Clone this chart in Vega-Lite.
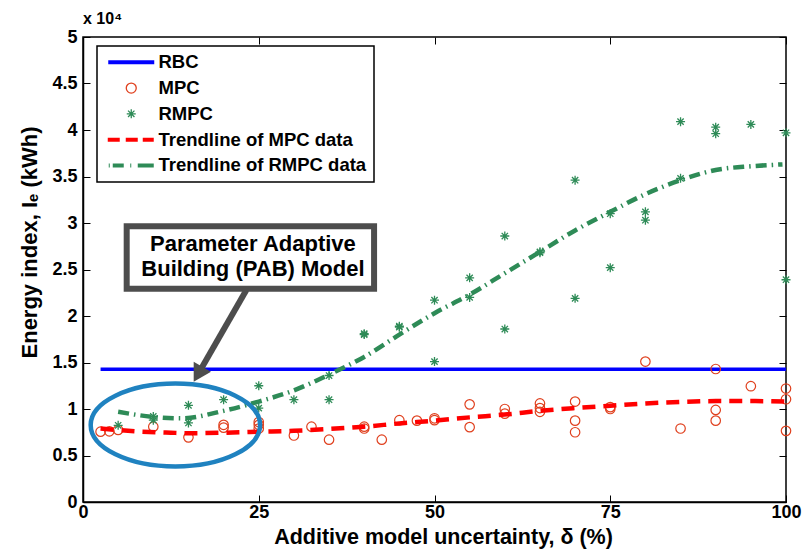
{
  "$schema": "https://vega.github.io/schema/vega-lite/v6.json",
  "width": 703,
  "height": 465,
  "autosize": {"type": "none"},
  "padding": {"left": 83, "top": 37, "right": 16, "bottom": 52},
  "background": "white",
  "title": {"text": "x 10⁴", "anchor": "start", "frame": "group", "fontSize": 16, "fontWeight": "bold", "font": "Liberation Sans", "offset": 1, "color": "black"},
  "config": {
    "view": {"stroke": "black", "strokeWidth": 1.5},
    "axis": {"domainColor": "black", "domainWidth": 1.5, "tickColor": "black", "tickWidth": 1, "tickSize": -7, "grid": false, "labelFont": "Liberation Sans", "labelFontWeight": "bold", "labelFontSize": 18, "labelColor": "black", "labelFlush": false, "labelOverlap": false, "titleFont": "Liberation Sans", "titleFontWeight": "bold", "titleFontSize": 22, "titleColor": "black"},
    "legend": {"labelFont": "Liberation Sans", "labelFontWeight": "bold", "labelFontSize": 18.5, "labelColor": "black", "labelLimit": 400}
  },
  "resolve": {"axis": {"x": "independent", "y": "independent"}},
  "layer": [
    {
      "data": {"values": [{"delta": 2.5, "energy": 14270}, {"delta": 100, "energy": 14270}]},
      "mark": {"type": "line", "color": "#0000ff", "strokeWidth": 3.5},
      "encoding": {
        "x": {"field": "delta", "type": "quantitative", "scale": {"domain": [0, 100], "nice": false},
          "axis": {"orient": "bottom", "values": [0, 25, 50, 75, 100], "title": "Additive model uncertainty, δ (%)", "titleFontSize": 21.5, "labelPadding": 8, "titlePadding": 5, "titleX": 360, "titleAlign": "center"}},
        "y": {"field": "energy", "type": "quantitative", "scale": {"domain": [0, 50000], "nice": false},
          "axis": {"orient": "left", "values": [0, 5000, 10000, 15000, 20000, 25000, 30000, 35000, 40000, 45000, 50000], "labelExpr": "datum.value / 10000", "title": "Energy index, Iₑ (kWh)", "labelPadding": 13, "titlePadding": 10, "titleY": 205}}
      }
    },
    {
      "data": {"values": [
        {"delta": 2.5, "energy": 7560}, {"delta": 3.75, "energy": 7600}, {"delta": 5, "energy": 7750},
        {"delta": 10, "energy": 8100}, {"delta": 15, "energy": 6950}, {"delta": 20, "energy": 8300},
        {"delta": 20, "energy": 8000}, {"delta": 25, "energy": 8600}, {"delta": 25, "energy": 7900},
        {"delta": 25, "energy": 8300}, {"delta": 30, "energy": 7150}, {"delta": 32.5, "energy": 8100},
        {"delta": 35, "energy": 6700}, {"delta": 40, "energy": 8100}, {"delta": 40, "energy": 7900},
        {"delta": 42.5, "energy": 6700}, {"delta": 45, "energy": 8800}, {"delta": 47.5, "energy": 8750},
        {"delta": 50, "energy": 9000}, {"delta": 50, "energy": 8800}, {"delta": 55, "energy": 10500},
        {"delta": 55, "energy": 8050}, {"delta": 60, "energy": 10000}, {"delta": 60, "energy": 9500},
        {"delta": 65, "energy": 10600}, {"delta": 65, "energy": 10100}, {"delta": 65, "energy": 9700},
        {"delta": 70, "energy": 10800}, {"delta": 70, "energy": 8750}, {"delta": 70, "energy": 7500},
        {"delta": 75, "energy": 10200}, {"delta": 75, "energy": 10000}, {"delta": 80, "energy": 15100},
        {"delta": 85, "energy": 7900}, {"delta": 90, "energy": 14300}, {"delta": 90, "energy": 9900},
        {"delta": 90, "energy": 8750}, {"delta": 95, "energy": 12450}, {"delta": 100, "energy": 12200},
        {"delta": 100, "energy": 11050}, {"delta": 100, "energy": 7650}
      ]},
      "mark": {"type": "point", "shape": "circle", "filled": false, "color": "#e0401e", "size": 90, "strokeWidth": 1.2, "opacity": 1},
      "encoding": {
        "x": {"field": "delta", "type": "quantitative", "axis": {"orient": "top", "values": [0, 25, 50, 75, 100], "labels": false, "title": null, "domain": false}},
        "y": {"field": "energy", "type": "quantitative", "axis": {"orient": "right", "values": [0, 5000, 10000, 15000, 20000, 25000, 30000, 35000, 40000, 45000, 50000], "labels": false, "title": null, "domain": false}}
      }
    },
    {
      "data": {"values": [
        {"delta": 5, "energy": 8250}, {"delta": 10, "energy": 9200}, {"delta": 10, "energy": 8800},
        {"delta": 15, "energy": 10400}, {"delta": 15, "energy": 8500}, {"delta": 20, "energy": 11000},
        {"delta": 25, "energy": 12500}, {"delta": 25, "energy": 10100}, {"delta": 30, "energy": 11000},
        {"delta": 35, "energy": 13600}, {"delta": 35, "energy": 11000}, {"delta": 40, "energy": 18000},
        {"delta": 40, "energy": 18100}, {"delta": 45, "energy": 18900}, {"delta": 45, "energy": 18800},
        {"delta": 50, "energy": 21700}, {"delta": 50, "energy": 15100}, {"delta": 55, "energy": 24100},
        {"delta": 55, "energy": 22000}, {"delta": 60, "energy": 28600}, {"delta": 60, "energy": 18600},
        {"delta": 65, "energy": 26800}, {"delta": 65, "energy": 26900}, {"delta": 70, "energy": 34600},
        {"delta": 70, "energy": 21900}, {"delta": 75, "energy": 31000}, {"delta": 75, "energy": 25200},
        {"delta": 80, "energy": 31200}, {"delta": 80, "energy": 30300}, {"delta": 85, "energy": 40900},
        {"delta": 85, "energy": 34800}, {"delta": 90, "energy": 40300}, {"delta": 90, "energy": 39600},
        {"delta": 95, "energy": 40600}, {"delta": 100, "energy": 39700}, {"delta": 100, "energy": 23900}
      ]},
      "mark": {"type": "point", "shape": "M -1 0 L 1 0 M 0 -1 L 0 1 M -0.7 -0.7 L 0.7 0.7 M -0.7 0.7 L 0.7 -0.7", "filled": false, "color": "#2e8b57", "size": 81, "strokeWidth": 1.3, "opacity": 1},
      "encoding": {
        "x": {"field": "delta", "type": "quantitative", "axis": null},
        "y": {"field": "energy", "type": "quantitative", "axis": null}
      }
    },
    {
      "data": {"values": [
        {"delta": 2.5, "energy": 7900}, {"delta": 7.5, "energy": 7600}, {"delta": 12.5, "energy": 7450},
        {"delta": 15, "energy": 7400}, {"delta": 20, "energy": 7450}, {"delta": 25, "energy": 7550},
        {"delta": 30, "energy": 7650}, {"delta": 35, "energy": 7850}, {"delta": 40, "energy": 8100},
        {"delta": 45, "energy": 8450}, {"delta": 50, "energy": 8750}, {"delta": 55, "energy": 9100},
        {"delta": 60, "energy": 9400}, {"delta": 65, "energy": 9800}, {"delta": 70, "energy": 10100},
        {"delta": 75, "energy": 10350}, {"delta": 80, "energy": 10600}, {"delta": 85, "energy": 10750},
        {"delta": 90, "energy": 10850}, {"delta": 95, "energy": 10850}, {"delta": 100, "energy": 10800}
      ]},
      "mark": {"type": "line", "color": "#ff0000", "strokeWidth": 4.5, "strokeDash": [13, 8], "interpolate": "monotone"},
      "encoding": {
        "x": {"field": "delta", "type": "quantitative", "axis": null},
        "y": {"field": "energy", "type": "quantitative", "axis": null}
      }
    },
    {
      "data": {"values": [
        {"delta": 5, "energy": 9700}, {"delta": 10, "energy": 9150}, {"delta": 14, "energy": 9000},
        {"delta": 20, "energy": 9800}, {"delta": 25, "energy": 10800}, {"delta": 30, "energy": 12000},
        {"delta": 35, "energy": 13700}, {"delta": 40, "energy": 15600}, {"delta": 45, "energy": 18000},
        {"delta": 50, "energy": 20300}, {"delta": 55, "energy": 22300}, {"delta": 60, "energy": 24600},
        {"delta": 65, "energy": 26900}, {"delta": 70, "energy": 29200}, {"delta": 75, "energy": 31200},
        {"delta": 80, "energy": 33100}, {"delta": 85, "energy": 34600}, {"delta": 90, "energy": 35700},
        {"delta": 95, "energy": 36100}, {"delta": 99.5, "energy": 36300}
      ]},
      "mark": {"type": "line", "color": "#2e8b57", "strokeWidth": 4.5, "strokeDash": [11, 5, 1.5, 5], "interpolate": "monotone"},
      "encoding": {
        "x": {"field": "delta", "type": "quantitative", "axis": null},
        "y": {"field": "energy", "type": "quantitative", "axis": null}
      }
    },
    {
      "data": {"values": [
        {"series": "RBC"}, {"series": "MPC"}, {"series": "RMPC"},
        {"series": "Trendline of MPC data"}, {"series": "Trendline of RMPC data"}
      ]},
      "mark": {"type": "point", "filled": false, "opacity": 0},
      "encoding": {
        "color": {"field": "series", "type": "nominal",
          "scale": {"domain": ["RBC", "MPC", "RMPC", "Trendline of MPC data", "Trendline of RMPC data"], "range": ["#0000ff", "#e0401e", "#2e8b57", "#ff0000", "#2e8b57"]},
          "legend": {"orient": "none", "legendX": 14, "legendY": 9, "title": null, "strokeColor": "black", "fillColor": "white", "padding": 7,
            "symbolSize": 100, "symbolOffset": 18, "labelOffset": 18, "rowPadding": 6.8, "symbolStrokeWidth": 4,
            "encoding": {
              "symbols": {
                "opacity": {"value": 1},
                "fill": {"value": "transparent"},
                "strokeWidth": {"value": {"expr": "(datum.value === 'MPC' || datum.value === 'RMPC') ? 1.3 : 4"}},
                "shape": {"value": {"expr": "datum.value === 'RBC' ? 'M -4.6 0 L 4.6 0' : datum.value === 'MPC' ? 'M -1 0 A 1 1 0 1 0 1 0 A 1 1 0 1 0 -1 0 Z' : datum.value === 'RMPC' ? 'M -0.9 0 L 0.9 0 M 0 -0.9 L 0 0.9 M -0.64 -0.64 L 0.64 0.64 M -0.64 0.64 L 0.64 -0.64' : datum.value === 'Trendline of MPC data' ? 'M -4.7 0 L -2.3 0 M -1.1 0 L 1.3 0 M 2.3 0 L 4.5 0' : 'M -4.5 0 L -4.3 0 M -3.7 0 L -1.5 0 M -0.2 0 L 0 0 M 1.3 0 L 4.5 0'"}}
              },
              "legend": {"strokeWidth": {"value": 1.5}}
            }
          }
        }
      }
    },
    {
      "data": {"values": [{"note": "PAB region"}]},
      "mark": {"type": "point", "shape": "M -1 0 A 1 0.49 0 1 0 1 0 A 1 0.49 0 1 0 -1 0 Z", "filled": false, "color": "#1f82c0", "size": 28700, "strokeWidth": 4.5, "opacity": 1},
      "encoding": {
        "x": {"datum": 13.14, "type": "quantitative", "axis": null},
        "y": {"datum": 8280, "type": "quantitative", "axis": null}
      }
    },
    {
      "data": {"values": [{"note": "arrow"}]},
      "mark": {"type": "rule", "color": "#4d4d4d", "strokeWidth": 6},
      "encoding": {
        "x": {"datum": 23.24, "type": "quantitative", "axis": null},
        "y": {"datum": 22800, "type": "quantitative", "axis": null},
        "x2": {"datum": 16.36},
        "y2": {"datum": 13740}
      }
    },
    {
      "data": {"values": [{"note": "arrowhead"}]},
      "mark": {"type": "point", "shape": "triangle-down", "angle": 30, "filled": true, "color": "#4d4d4d", "size": 400, "opacity": 1},
      "encoding": {
        "x": {"datum": 16.36, "type": "quantitative", "axis": null},
        "y": {"datum": 13740, "type": "quantitative", "axis": null}
      }
    },
    {
      "data": {"values": [{"note": "box"}]},
      "mark": {"type": "point", "shape": "M -1 -0.252 L 1 -0.252 L 1 0.252 L -1 0.252 Z", "filled": true, "fill": "white", "stroke": "#4d4d4d", "size": 61200, "strokeWidth": 6, "opacity": 1},
      "encoding": {
        "x": {"datum": 23.81, "type": "quantitative", "axis": null},
        "y": {"datum": 26290, "type": "quantitative", "axis": null}
      }
    },
    {
      "data": {"values": [{"label": "Parameter Adaptive\nBuilding (PAB) Model"}]},
      "mark": {"type": "text", "lineBreak": "\n", "font": "Liberation Sans", "fontWeight": "bold", "fontSize": 22, "align": "center", "baseline": "middle", "lineHeight": 25, "dy": -14, "color": "black"},
      "encoding": {
        "x": {"datum": 24.17, "type": "quantitative", "axis": null},
        "y": {"datum": 26290, "type": "quantitative", "axis": null},
        "text": {"field": "label"}
      }
    }
  ]
}
